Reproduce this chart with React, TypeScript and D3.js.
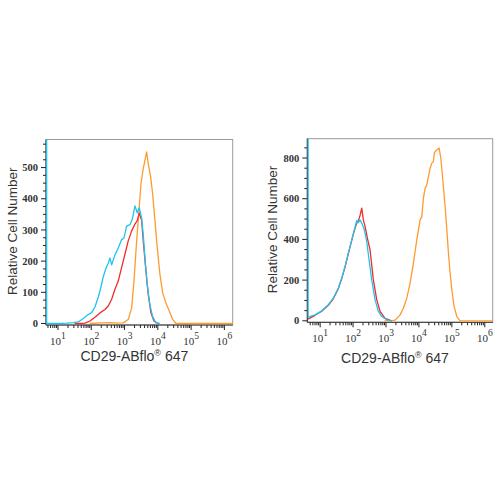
import React, { useEffect, useRef } from "react";
import * as d3 from "d3";

// x values are log10 of fluorescence intensity, y values are cell counts
const leftOrange: [number, number][] = [
  [1.95, 0], [2.3, 2], [2.6, 3], [2.763, 1], [2.961, 2], [3.111, 13], [3.214, 50], [3.283, 136],
  [3.364, 265], [3.442, 373], [3.493, 448], [3.562, 497], [3.613, 523], [3.664, 550],
  [3.712, 513], [3.784, 470], [3.844, 416], [3.913, 330], [3.982, 244], [4.063, 158],
  [4.144, 99], [4.243, 66], [4.343, 40], [4.445, 13], [4.544, 0], [6.25, 0],
];
const leftRed: [number, number][] = [
  [1.5, 0], [1.661, 0], [1.811, 1], [1.961, 8], [2.111, 20], [2.262, 34], [2.412, 45],
  [2.511, 56], [2.613, 78], [2.712, 110], [2.811, 136], [2.913, 180], [3.012, 222],
  [3.111, 265], [3.214, 297], [3.313, 319], [3.382, 330], [3.442, 354], [3.514, 330],
  [3.562, 265], [3.634, 179], [3.712, 93], [3.793, 34], [3.883, 8], [4.012, 0],
];
const leftCyan: [number, number][] = [
  [0.66, 5000], [0.66, 0], [1.0, 0], [1.262, 1], [1.46, 3], [1.61, 5], [1.76, 16], [1.91, 29],
  [2.012, 35], [2.111, 53], [2.211, 85], [2.283, 113], [2.361, 150], [2.442, 177],
  [2.511, 193], [2.562, 210], [2.613, 188], [2.712, 220], [2.811, 242], [2.913, 269],
  [2.982, 274], [3.063, 312], [3.162, 317], [3.232, 334], [3.313, 377], [3.382, 355],
  [3.442, 371], [3.514, 339], [3.562, 285], [3.622, 199], [3.682, 124], [3.763, 60],
  [3.844, 22], [3.943, 2], [4.063, 0],
];

const rightOrange: [number, number][] = [
  [2.95, 0], [3.023, 0], [3.124, 0], [3.276, 3], [3.428, 29], [3.528, 62], [3.631, 111],
  [3.732, 185], [3.832, 283], [3.935, 398], [4.036, 496], [4.087, 512], [4.136, 603],
  [4.188, 652], [4.239, 668], [4.288, 709], [4.34, 750], [4.391, 775], [4.44, 783],
  [4.47, 827], [4.543, 840], [4.613, 849], [4.665, 799], [4.725, 693], [4.795, 562],
  [4.847, 447], [4.896, 333], [4.947, 234], [4.999, 152], [5.069, 70], [5.151, 21],
  [5.251, 0], [6.24, 0],
];
const rightRed: [number, number][] = [
  [0.63, 8], [0.844, 27], [1.048, 47], [1.248, 76], [1.4, 108], [1.552, 158], [1.656, 207],
  [1.756, 264], [1.856, 330], [1.96, 395], [2.039, 445], [2.112, 480], [2.16, 490],
  [2.212, 518], [2.263, 554], [2.313, 496], [2.365, 463], [2.446, 398], [2.516, 349],
  [2.616, 201], [2.719, 103], [2.82, 46], [2.972, 12], [3.175, 0],
];
const rightCyan: [number, number][] = [
  [0.635, 5000], [0.635, 18], [0.844, 29], [1.048, 49], [1.248, 79], [1.4, 111], [1.552, 161],
  [1.656, 210], [1.756, 267], [1.856, 333], [1.96, 398], [2.039, 447], [2.112, 493],
  [2.16, 483], [2.212, 496], [2.263, 480], [2.343, 447], [2.415, 390], [2.485, 300],
  [2.567, 201], [2.668, 103], [2.768, 46], [2.871, 21], [3.023, 5], [3.175, 0],
];

const leftYTicks = [0, 100, 200, 300, 400, 500];
const rightYTicks = [0, 200, 400, 600, 800];
const xTickExponents = [1, 2, 3, 4, 5, 6];

const ORANGE = "#FF9A30";
const RED = "#F22A2A";
const CYAN = "#1EC4F0";

type PanelCfg = {
  id: string;
  left: number;
  right: number;
  top: number;
  bottom: number;
  logMin: number;
  logMax: number;
  yMax: number;
  yTicks: number[];
  yMinorStep: number;
  series: { data: [number, number][]; color: string }[];
  yLabelX: number;
  xLabelY: number;
};

const panels: PanelCfg[] = [
  {
    id: "a", left: 46, right: 232.7, top: 139.5, bottom: 325, logMin: 0.64, logMax: 6.25,
    yMax: 590, yTicks: leftYTicks, yMinorStep: 25,
    series: [
      { data: leftOrange, color: ORANGE },
      { data: leftRed, color: RED },
      { data: leftCyan, color: CYAN },
    ],
    yLabelX: 12, xLabelY: 361,
  },
  {
    id: "b", left: 307.3, right: 492.7, top: 138.7, bottom: 322.3, logMin: 0.61, logMax: 6.24,
    yMax: 895, yTicks: rightYTicks, yMinorStep: 50,
    series: [
      { data: rightOrange, color: ORANGE },
      { data: rightRed, color: RED },
      { data: rightCyan, color: CYAN },
    ],
    yLabelX: 272.7, xLabelY: 363,
  },
];

function drawPanel(g: d3.Selection<SVGGElement, unknown, null, undefined>, p: PanelCfg) {
  const zeroY = p.bottom - 1.5;
  const x = d3.scaleLog().domain([Math.pow(10, p.logMin), Math.pow(10, p.logMax)]).range([p.left, p.right]);
  const y = d3.scaleLinear().domain([0, p.yMax]).range([zeroY, p.top]);

  const clipId = "clip-" + p.id;
  g.append("clipPath").attr("id", clipId).append("rect")
    .attr("x", p.left).attr("y", p.top).attr("width", p.right - p.left).attr("height", p.bottom - p.top + 1);

  // frame
  g.append("rect").attr("x", p.left).attr("y", p.top).attr("width", p.right - p.left)
    .attr("height", p.bottom - p.top).attr("fill", "white").attr("stroke", "#9a9a9a").attr("stroke-width", 1);

  // y ticks
  for (let v = 0; v <= p.yMax; v += p.yMinorStep) {
    const major = p.yTicks.includes(v);
    g.append("line").attr("x1", p.left - (major ? 5 : 3)).attr("x2", p.left)
      .attr("y1", y(v)).attr("y2", y(v)).attr("stroke", "#222").attr("stroke-width", 1);
  }
  p.yTicks.forEach((v) => {
    g.append("text").attr("x", p.left - 8).attr("y", y(v)).attr("dy", "0.35em")
      .attr("text-anchor", "end").attr("font-family", "'Liberation Serif', serif")
      .attr("font-size", 10.5).attr("font-weight", "bold").attr("fill", "#333").text(String(v));
  });

  // x ticks
  for (let k = 0; k <= 6; k++) {
    for (let m = 1; m <= 9; m++) {
      const val = m * Math.pow(10, k);
      const lv = Math.log10(val);
      if (lv < p.logMin || lv > p.logMax) continue;
      const major = m === 1;
      g.append("line").attr("x1", x(val)).attr("x2", x(val)).attr("y1", p.bottom)
        .attr("y2", p.bottom + (major ? 5 : 3)).attr("stroke", "#222").attr("stroke-width", 1);
    }
  }
  xTickExponents.forEach((e) => {
    const t = g.append("text").attr("x", x(Math.pow(10, e))).attr("y", p.bottom + 20)
      .attr("text-anchor", "middle").attr("font-family", "'Liberation Serif', serif")
      .attr("font-size", 11).attr("fill", "#333");
    t.append("tspan").text("10");
    t.append("tspan").attr("dy", -6).attr("font-size", 9.5).text(String(e));
  });

  // axis lines
  g.append("line").attr("x1", p.left).attr("x2", p.left).attr("y1", p.top).attr("y2", p.bottom)
    .attr("stroke", "#333").attr("stroke-width", 1);
  g.append("line").attr("x1", p.left).attr("x2", p.right).attr("y1", p.bottom).attr("y2", p.bottom)
    .attr("stroke", "#333").attr("stroke-width", 1);

  // curves
  const line = d3.line<[number, number]>()
    .x((d) => x(Math.pow(10, d[0])))
    .y((d) => y(d[1]));
  const cg = g.append("g").attr("clip-path", `url(#${clipId})`);
  p.series.forEach((s) => {
    cg.append("path").attr("d", line(s.data) as string).attr("fill", "none")
      .attr("stroke", s.color).attr("stroke-width", 1.3).attr("stroke-linejoin", "round");
  });

  // labels
  const cy = (p.top + p.bottom) / 2 - 1;
  g.append("text").attr("transform", `translate(${p.yLabelX},${cy}) rotate(-90)`)
    .attr("dy", "0.35em").attr("text-anchor", "middle")
    .attr("font-family", "'Liberation Sans', Arial, sans-serif").attr("font-size", 13.5)
    .attr("fill", "#333").text("Relative Cell Number");
  const xl = g.append("text").attr("x", (p.left + p.right) / 2 - 5).attr("y", p.xLabelY)
    .attr("text-anchor", "middle").attr("font-family", "'Liberation Sans', Arial, sans-serif")
    .attr("font-size", 14).attr("fill", "#333");
  xl.append("tspan").text("CD29-ABflo");
  xl.append("tspan").attr("dy", -5).attr("font-size", 9).text("®");
  xl.append("tspan").attr("dy", 5).text(" 647");
}

export default function App() {
  const ref = useRef<SVGSVGElement | null>(null);
  useEffect(() => {
    if (!ref.current) return;
    const svg = d3.select(ref.current);
    svg.selectAll("*").remove();
    panels.forEach((p) => drawPanel(svg.append("g"), p));
  }, []);
  return (
    <svg
      ref={ref}
      width={500}
      height={500}
      style={{ position: "absolute", left: 0, top: 0, background: "white" }}
    />
  );
}
